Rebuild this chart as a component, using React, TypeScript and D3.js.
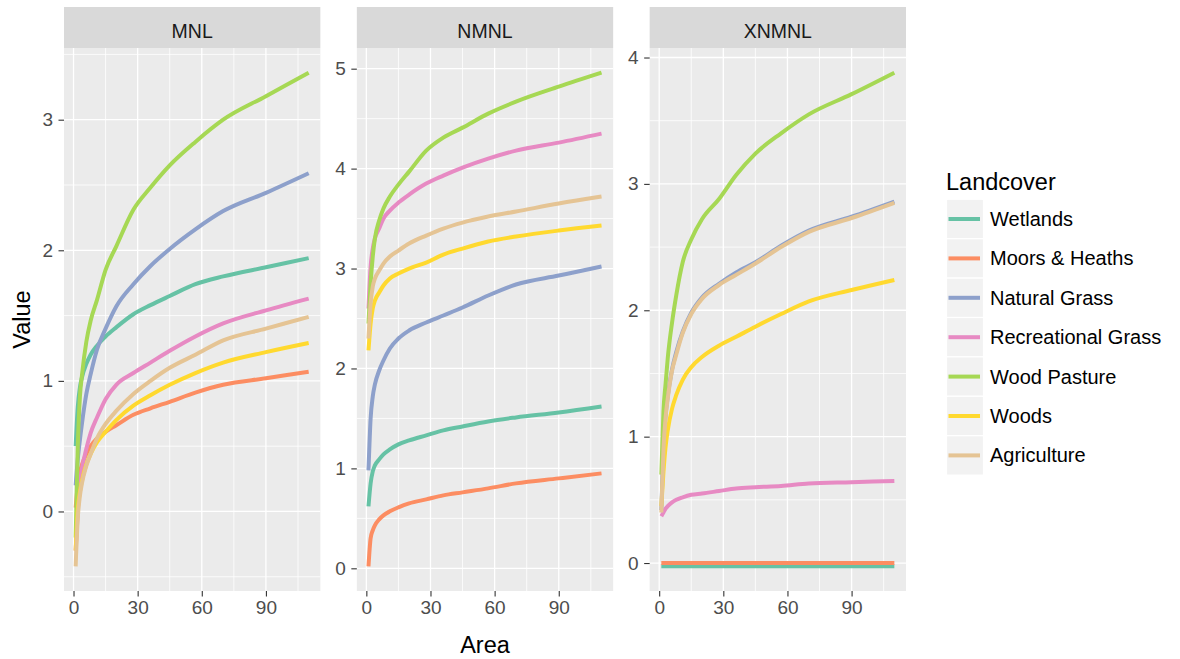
import React, { useRef, useEffect } from "react";
import * as d3 from "d3";

const areas = [1, 2, 3, 4, 6, 8, 11, 15, 20, 28, 36, 45, 57, 70, 90, 110];
const landcovers = [
  "Wetlands",
  "Moors & Heaths",
  "Natural Grass",
  "Recreational Grass",
  "Wood Pasture",
  "Woods",
  "Agriculture",
];
const colors = ["#66C2A5", "#FC8D62", "#8DA0CB", "#E78AC3", "#A6D854", "#FFD92F", "#E5C494"];
const panels = ["MNL", "NMNL", "XNMNL"];
const xTicks = [0, 30, 60, 90];

// one row per landcover, same order as above
const mnl = [
  [0.5, 0.8, 0.95, 1.03, 1.13, 1.2, 1.27, 1.34, 1.41, 1.51, 1.58, 1.65, 1.74, 1.8, 1.87, 1.94],
  [0.03, 0.2, 0.3, 0.36, 0.44, 0.5, 0.56, 0.61, 0.66, 0.74, 0.79, 0.84, 0.91, 0.97, 1.02, 1.07],
  [0.2, 0.4, 0.55, 0.68, 0.9, 1.05, 1.24, 1.4, 1.57, 1.74, 1.88, 2.01, 2.16, 2.3, 2.44, 2.59],
  [-0.3, 0.0, 0.22, 0.33, 0.48, 0.6, 0.72, 0.86, 0.97, 1.06, 1.14, 1.23, 1.34, 1.44, 1.54, 1.63],
  [-0.2, 0.5, 0.88, 1.05, 1.3, 1.46, 1.62, 1.85, 2.03, 2.31, 2.48, 2.65, 2.83, 3.0, 3.18, 3.36],
  [-0.3, 0.02, 0.15, 0.24, 0.36, 0.44, 0.53, 0.61, 0.7, 0.81, 0.89, 0.97, 1.06, 1.14, 1.22, 1.29],
  [-0.42, -0.05, 0.12, 0.22, 0.35, 0.44, 0.56, 0.67, 0.77, 0.9, 1.0, 1.1, 1.2, 1.31, 1.4, 1.49],
];
const nmnl = [
  [0.62, 0.85, 0.97, 1.03, 1.09, 1.14, 1.19, 1.24, 1.28, 1.33, 1.38, 1.42, 1.47, 1.51, 1.56, 1.62],
  [0.02, 0.3, 0.38, 0.43, 0.49, 0.53, 0.57, 0.61, 0.65, 0.69, 0.73, 0.76, 0.8, 0.85, 0.9, 0.95],
  [0.98, 1.5, 1.72, 1.84, 1.98, 2.08, 2.2, 2.3, 2.38, 2.46, 2.53, 2.61, 2.73, 2.84, 2.93, 3.02],
  [2.6, 3.02, 3.2, 3.3, 3.4, 3.5, 3.58, 3.66, 3.74, 3.85, 3.93, 4.01, 4.1, 4.18, 4.26, 4.35],
  [2.45, 2.85, 3.12, 3.3, 3.48, 3.6, 3.72, 3.84, 3.97, 4.18, 4.31, 4.41, 4.55, 4.67, 4.82, 4.96],
  [2.18, 2.45, 2.6, 2.68, 2.76, 2.83, 2.9, 2.95, 3.0, 3.06, 3.14, 3.2, 3.27, 3.32, 3.38, 3.43],
  [2.3, 2.65, 2.82, 2.9, 2.98, 3.05, 3.12, 3.18, 3.25, 3.33, 3.4, 3.46, 3.52, 3.57, 3.65, 3.72],
];
const xnmnl = [
  [-0.026, -0.026, -0.026, -0.026, -0.026, -0.026, -0.026, -0.026, -0.026, -0.026, -0.026, -0.026, -0.026, -0.026, -0.026, -0.026],
  [0, 0, 0, 0, 0, 0, 0, 0, 0, 0, 0, 0, 0, 0, 0, 0],
  [0.42, 0.92, 1.17, 1.32, 1.53, 1.67, 1.83, 1.98, 2.1, 2.21, 2.3, 2.38, 2.51, 2.63, 2.74, 2.86],
  [0.37, 0.4, 0.43, 0.45, 0.48, 0.5, 0.52, 0.54, 0.55, 0.57, 0.59, 0.6, 0.61, 0.63, 0.64, 0.65],
  [0.7, 1.2, 1.42, 1.62, 1.9, 2.12, 2.38, 2.56, 2.72, 2.88, 3.07, 3.24, 3.4, 3.55, 3.71, 3.88],
  [0.45, 0.72, 0.92, 1.05, 1.22, 1.33, 1.45, 1.55, 1.63, 1.72, 1.79, 1.87, 1.97, 2.07, 2.16, 2.24],
  [0.4, 0.9, 1.15, 1.3, 1.52, 1.65, 1.82, 1.97, 2.09, 2.2, 2.28, 2.37, 2.5, 2.62, 2.73, 2.85],
];
const panelData = [mnl, nmnl, xnmnl];

const W = 1180;
const H = 659;
const FONT = "'Liberation Sans', Arial, sans-serif";

// pad a range by 5% each side, like ggplot does
const expand = ([lo, hi]) => {
  const pad = (hi - lo) * 0.05;
  return [lo - pad, hi + pad];
};

export default function App() {
  const svgRef = useRef(null);

  useEffect(() => {
    const svg = d3.select(svgRef.current);
    svg.selectAll("*").remove();

    const left = 64;
    const right = 906;
    const gap = 36.5;
    const stripTop = 7;
    const top = 48;
    const bottom = 591;
    const pw = (right - left - 2 * gap) / 3;

    panels.forEach((name, p) => {
      const data = panelData[p];
      const x0 = left + p * (pw + gap);

      const x = d3
        .scaleLinear()
        .domain(expand(d3.extent(areas)))
        .range([x0, x0 + pw]);
      const y = d3
        .scaleLinear()
        .domain(expand(d3.extent(data.flat())))
        .range([bottom, top]);

      const g = svg.append("g");

      g.append("rect")
        .attr("x", x0)
        .attr("y", top)
        .attr("width", pw)
        .attr("height", bottom - top)
        .attr("fill", "#EBEBEB");

      // strip
      g.append("rect")
        .attr("x", x0)
        .attr("y", stripTop)
        .attr("width", pw)
        .attr("height", top - stripTop)
        .attr("fill", "#D9D9D9");
      g.append("text")
        .attr("x", x0 + pw / 2)
        .attr("y", 38)
        .attr("text-anchor", "middle")
        .attr("font-size", 19.5)
        .attr("fill", "#1A1A1A")
        .text(name);

      const yTicks = y.ticks(5);
      const yStep = yTicks[1] - yTicks[0];
      const [yLo, yHi] = y.domain();
      const yMinor = yTicks
        .map((t) => t - yStep / 2)
        .concat([yTicks[yTicks.length - 1] + yStep / 2])
        .filter((v) => v > yLo && v < yHi);
      const xStep = xTicks[1] - xTicks[0];
      const [xLo, xHi] = x.domain();
      const xMinor = xTicks
        .map((t) => t - xStep / 2)
        .concat([xTicks[xTicks.length - 1] + xStep / 2])
        .filter((v) => v > xLo && v < xHi);

      // grid
      g.selectAll(".ymin")
        .data(yMinor)
        .join("line")
        .attr("x1", x0)
        .attr("x2", x0 + pw)
        .attr("y1", (d) => y(d))
        .attr("y2", (d) => y(d))
        .attr("stroke", "#FFFFFF")
        .attr("stroke-width", 0.8);
      g.selectAll(".xmin")
        .data(xMinor)
        .join("line")
        .attr("x1", (d) => x(d))
        .attr("x2", (d) => x(d))
        .attr("y1", top)
        .attr("y2", bottom)
        .attr("stroke", "#FFFFFF")
        .attr("stroke-width", 0.8);
      g.selectAll(".ymaj")
        .data(yTicks)
        .join("line")
        .attr("x1", x0)
        .attr("x2", x0 + pw)
        .attr("y1", (d) => y(d))
        .attr("y2", (d) => y(d))
        .attr("stroke", "#FFFFFF")
        .attr("stroke-width", 1.3);
      g.selectAll(".xmaj")
        .data(xTicks)
        .join("line")
        .attr("x1", (d) => x(d))
        .attr("x2", (d) => x(d))
        .attr("y1", top)
        .attr("y2", bottom)
        .attr("stroke", "#FFFFFF")
        .attr("stroke-width", 1.3);

      // y axis
      const yAxis = g
        .append("g")
        .attr("transform", `translate(${x0},0)`)
        .call(d3.axisLeft(y).tickValues(yTicks).tickSize(5.5).tickPadding(5.5).tickFormat(d3.format("d")));
      yAxis.select(".domain").remove();
      yAxis.selectAll("line").attr("stroke", "#333333").attr("stroke-width", 1.1);
      yAxis
        .selectAll("text")
        .attr("font-size", 19)
        .attr("font-family", FONT)
        .attr("fill", "#4D4D4D");

      // x axis
      const xAxis = g
        .append("g")
        .attr("transform", `translate(0,${bottom})`)
        .call(d3.axisBottom(x).tickValues(xTicks).tickSize(5.5).tickPadding(4).tickFormat(d3.format("d")));
      xAxis.select(".domain").remove();
      xAxis.selectAll("line").attr("stroke", "#333333").attr("stroke-width", 1.1);
      xAxis
        .selectAll("text")
        .attr("font-size", 19)
        .attr("font-family", FONT)
        .attr("fill", "#4D4D4D");

      const line = d3
        .line()
        .x((d, i) => x(areas[i]))
        .y((d) => y(d))
        .curve(d3.curveMonotoneX);

      g.selectAll(".series")
        .data(data)
        .join("path")
        .attr("d", (d) => line(d))
        .attr("fill", "none")
        .attr("stroke", (d, i) => colors[i])
        .attr("stroke-width", 4);
    });

    // axis titles
    svg
      .append("text")
      .attr("x", (left + right) / 2)
      .attr("y", 653)
      .attr("text-anchor", "middle")
      .attr("font-size", 23.5)
      .attr("fill", "#000")
      .text("Area");
    svg
      .append("text")
      .attr("transform", `translate(30,${(top + bottom) / 2}) rotate(-90)`)
      .attr("text-anchor", "middle")
      .attr("font-size", 23.5)
      .attr("fill", "#000")
      .text("Value");

    // legend
    const lg = svg.append("g");
    lg.append("text")
      .attr("x", 946)
      .attr("y", 190)
      .attr("font-size", 23.5)
      .attr("fill", "#000")
      .text("Landcover");

    const keyTop = 199.3;
    const keyH = 39.4;
    const items = lg
      .selectAll(".key")
      .data(landcovers)
      .join("g")
      .attr("transform", (d, i) => `translate(946.5,${keyTop + i * keyH})`);
    items
      .append("rect")
      .attr("width", 37)
      .attr("height", keyH)
      .attr("fill", "#F2F2F2")
      .attr("stroke", "#FFFFFF")
      .attr("stroke-width", 1.2);
    items
      .append("line")
      .attr("x1", 2)
      .attr("x2", 33.5)
      .attr("y1", keyH / 2)
      .attr("y2", keyH / 2)
      .attr("stroke", (d, i) => colors[i])
      .attr("stroke-width", 4);
    items
      .append("text")
      .attr("x", 43.5)
      .attr("y", keyH / 2 + 7)
      .attr("font-size", 20)
      .attr("fill", "#000")
      .text((d) => d);
  }, []);

  return (
    <svg
      ref={svgRef}
      width={W}
      height={H}
      fontFamily={FONT}
      style={{ position: "absolute", left: 0, top: 0, background: "#FFFFFF" }}
    />
  );
}
